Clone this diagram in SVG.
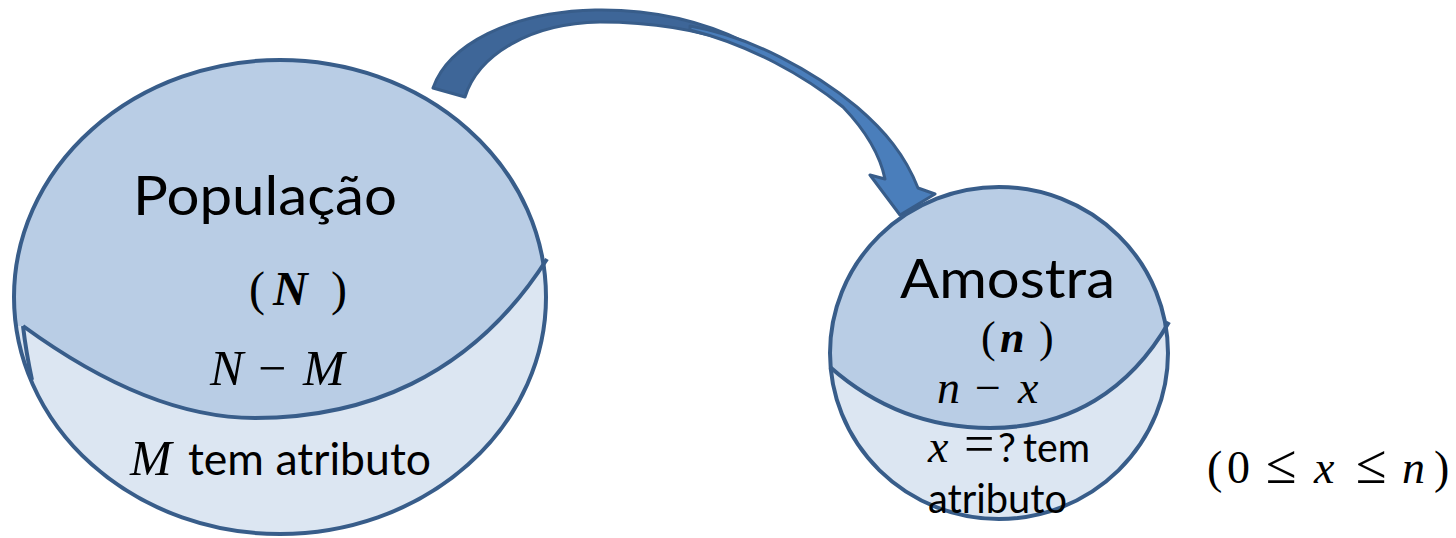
<svg xmlns="http://www.w3.org/2000/svg" width="1456" height="538" viewBox="0 0 1456 538">
<style>
.ol{stroke:#385d8a;stroke-width:4;fill:none}
.up{fill:#b9cde5}
.lo{fill:#dce6f2}
.sans{font-family:Lato,"Open Sans","Liberation Sans",sans-serif;fill:#000}
.m{font-family:"Liberation Serif","DejaVu Serif",serif;fill:#000}
.i{font-style:italic}
.b{font-weight:bold}
.arr{stroke:#385d8a;stroke-width:3;stroke-linejoin:round}
</style>
<defs>
<clipPath id="cb"><ellipse cx="280" cy="297" rx="266" ry="237"/></clipPath>
<clipPath id="cs"><ellipse cx="999" cy="353" rx="169" ry="166"/></clipPath>
</defs>
<rect width="1456" height="538" fill="#ffffff"/>

<g id="connectors">
 <g id="arrow">
  <path class="arr" fill="#3e6698" d="M433,88 C448,45 510,12 595,10 C650,9 700,20 745,42 L742,45 C700,30 650,22 600,22 C530,23 478,55 465,97 Z"/>
  <path class="arr" fill="#4a7ebb" d="M690,26 C750,36 815,72 857,107 C885,131 905,155 918,188 L935,194 L900,215 L870,175 L885,179 C880,155 865,130 843,107 C805,76 750,45 690,30 Z"/>
 </g>
</g>

<g id="node-populacao">
 <ellipse class="up" cx="280" cy="297" rx="266" ry="237"/>
 <path class="lo" clip-path="url(#cb)" d="M23,326 C90,375 170,418 255,418 C360,418 470,380 547,259 L600,259 L600,560 L0,560 L0,326 Z"/>
 <ellipse class="ol" cx="280" cy="297" rx="266" ry="237"/>
 <path class="ol" d="M23,326 C90,375 170,418 255,418 C360,418 470,380 547,259"/>
 <path class="ol" stroke-width="3" d="M23,326 Q26,352 32,380"/>
 <text class="sans" x="133" y="215" font-size="55" textLength="264" lengthAdjust="spacingAndGlyphs">População</text>
 <text class="m" x="249" y="305" font-size="48">(</text>
 <text class="m i b" x="273" y="305" font-size="48">N</text>
 <text class="m" x="331" y="305" font-size="48">)</text>
 <text class="m i" x="210" y="385" font-size="50">N</text>
 <text class="m" x="258" y="385" font-size="50">−</text>
 <text class="m i" x="303" y="385" font-size="50">M</text>
 <text class="m i" x="130" y="475" font-size="50">M</text>
 <text class="sans" x="188" y="475" font-size="44" textLength="243" lengthAdjust="spacingAndGlyphs">tem atributo</text>
</g>

<g id="node-amostra">
 <ellipse class="up" cx="999" cy="353" rx="169" ry="166"/>
 <path class="lo" clip-path="url(#cs)" d="M830,367 C865,398 915,428 990,428 C1070,428 1130,390 1169,322 L1200,322 L1200,540 L800,540 L800,367 Z"/>
 <ellipse class="ol" cx="999" cy="353" rx="169" ry="166"/>
 <path class="ol" d="M830,367 C865,398 915,428 990,428 C1070,428 1130,390 1169,322"/>
 <text class="sans" x="900" y="298" font-size="55" textLength="215" lengthAdjust="spacingAndGlyphs">Amostra</text>
 <text class="m" x="981" y="352" font-size="44">(</text>
 <text class="m i b" x="1000" y="352" font-size="44">n</text>
 <text class="m" x="1039" y="352" font-size="44">)</text>
 <text class="m i" x="937" y="403" font-size="46">n</text>
 <text class="m" x="975" y="403" font-size="46">−</text>
 <text class="m i" x="1018" y="403" font-size="46">x</text>
 <text class="m i" x="928" y="462" font-size="46">x</text>
 <text class="m" x="964" y="462" font-size="54">=</text>
 <text class="sans" x="998" y="462" font-size="40">?</text>
 <text class="sans" x="1023" y="462" font-size="40" textLength="67" lengthAdjust="spacingAndGlyphs">tem</text>
 <text class="sans" x="928" y="513" font-size="40" textLength="139" lengthAdjust="spacingAndGlyphs">atributo</text>
</g>

<g id="label-range">
 <text class="m" x="1207" y="483" font-size="46">(</text>
 <text class="m" x="1227" y="483" font-size="46">0</text>
 <text class="m" x="1266" y="483" font-size="56">≤</text>
 <text class="m i" x="1314" y="483" font-size="46">x</text>
 <text class="m" x="1356" y="483" font-size="56">≤</text>
 <text class="m i" x="1402" y="483" font-size="46">n</text>
 <text class="m" x="1434" y="483" font-size="46">)</text>
</g>
</svg>
